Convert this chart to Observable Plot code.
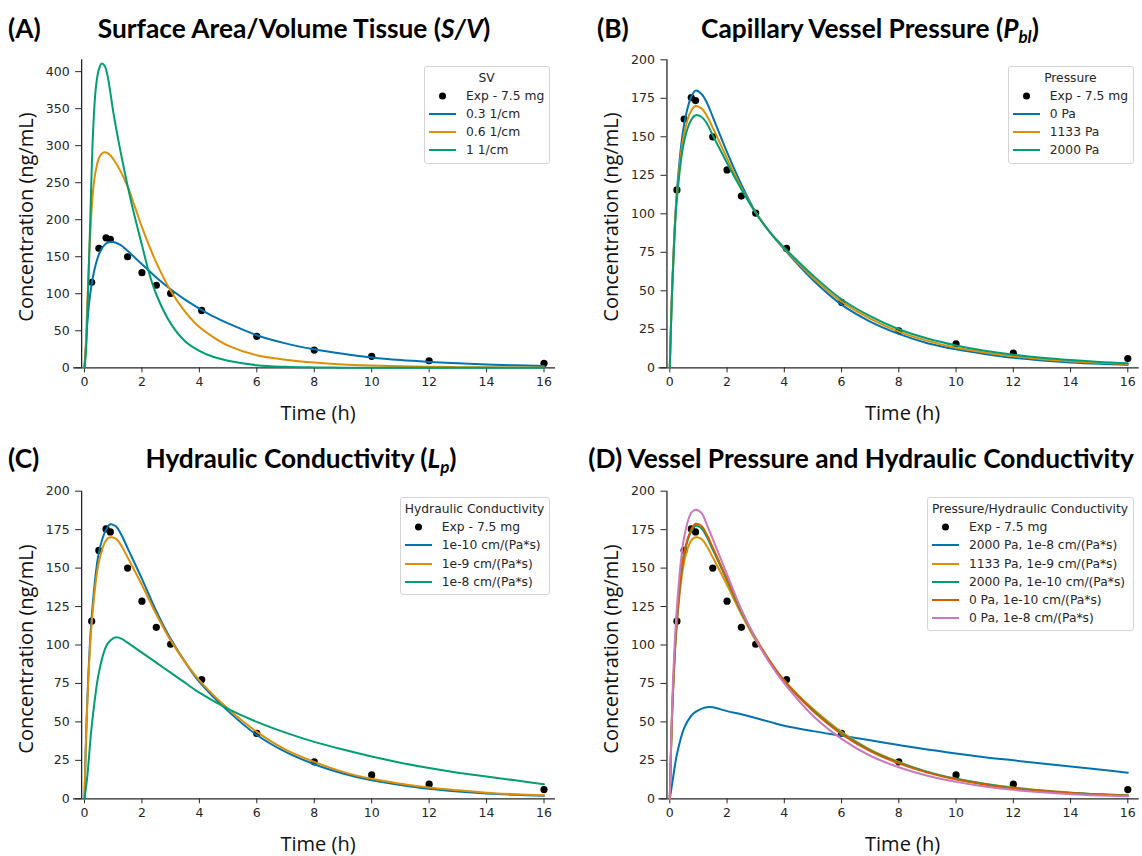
<!DOCTYPE html>
<html><head><meta charset="utf-8">
<script src="https://cdn.jsdelivr.net/npm/d3@7"></script>
<script src="https://cdn.jsdelivr.net/npm/@observablehq/plot@0.6"></script>
<style>
body{margin:0;background:#fff;}
#root{position:relative;width:1142px;height:856px;overflow:hidden;background:#fff;}
.panel{position:absolute;width:571px;height:428px;}
.panel svg{max-width:none;overflow:visible;}
.ttl{position:absolute;font-family:Lato,"Open Sans",sans-serif;font-weight:700;font-size:26.3px;line-height:1.1;white-space:nowrap;color:#000;transform:translate(-50%,-50%);}
.tag{position:absolute;font-family:Lato,"Open Sans",sans-serif;font-weight:700;font-size:26.3px;line-height:1.1;white-space:nowrap;color:#000;transform:translate(0,-50%);}
.ttl sub{font-size:17px;vertical-align:-5px;line-height:0;}
.ylab{position:absolute;font-family:"Open Sans",sans-serif;font-size:20px;line-height:1;white-space:nowrap;color:#111;transform:translate(-50%,-50%) rotate(-90deg);}
.xlab{position:absolute;font-family:"Open Sans",sans-serif;font-size:20px;line-height:1;white-space:nowrap;color:#111;transform:translate(-50%,-50%);}
.legend{position:absolute;background:rgba(255,255,255,0.85);border:1px solid #d4d4d4;border-radius:3px;padding:2px 5px 3px 4px;font-family:"DejaVu Sans",sans-serif;font-size:12.3px;line-height:18.2px;color:#262626;}
.legend .lt{text-align:center;white-space:nowrap;}
.legend .row{display:flex;align-items:center;white-space:nowrap;}
.legend .row svg{width:27px;height:10px;margin-right:10px;flex:none;}
</style>
</head><body><div id="root"></div>
<script>
// ---------- data ----------
const xTicks = [0, 2, 4, 6, 8, 10, 12, 14, 16];
const yTicksA = [0, 50, 100, 150, 200, 250, 300, 350, 400];
const yTicksBCD = [0, 25, 50, 75, 100, 125, 150, 175, 200];

const expTime = [0.25, 0.5, 0.75, 0.9, 1.5, 2, 2.5, 3, 4.08, 6, 8, 10, 12, 16];
const expConc = [115.5, 161.5, 175.5, 173.5, 150, 128.5, 111.5, 100.5, 77.5, 42.5, 24, 15.5, 9.5, 6];

// Panel A time grid and curves
const gridA = [0, 0.05, 0.1, 0.2, 0.3, 0.4, 0.5, 0.6, 0.7, 0.8, 0.9, 1, 1.25, 1.5, 1.75, 2, 2.25, 2.5, 3, 3.5, 4, 4.5, 5, 6, 7, 8, 9, 10, 11, 12, 13, 14, 15, 16];
const sv03 = [0, 30, 62, 100, 124, 141, 153, 161, 166, 169, 170, 170, 166, 158, 149, 140, 131, 122, 106, 92, 80, 69, 60, 44, 33, 25, 19, 14, 10.5, 8, 6, 4.5, 3.3, 2.5];
const sv06 = [0, 35, 90, 180, 240, 268, 283, 289, 291, 290, 287, 282, 266, 245, 218, 190, 165, 142, 104, 76, 55, 41, 30, 17, 11, 7, 4.5, 3, 2, 1.3, 0.9, 0.6, 0.4, 0.3];
const sv1  = [0, 22, 72, 200, 320, 380, 403, 411, 408, 395, 372, 346, 293, 246, 204, 166, 128, 99, 60, 36, 23, 14.5, 9.5, 3.5, 1.3, 0.5, 0.2, 0.1, 0.05, 0.02, 0, 0, 0, 0];

// Panels B, C, D time grid
const gridB = [0, 0.1, 0.25, 0.5, 0.75, 0.9, 1.1, 1.3, 1.5, 2, 2.5, 3, 3.5, 4, 5, 6, 7, 8, 9, 10, 11, 12, 13, 14, 15, 16];
// B: capillary vessel pressure
const p0    = [0, 60, 115, 158, 176, 180, 178, 172, 163, 140, 119, 101, 88, 77, 57, 41, 30, 22, 16, 12, 9, 6.5, 4.8, 3.5, 2.6, 2];
const p1133 = [0, 60, 113, 152, 167, 170, 168.5, 163.5, 156, 136, 117, 101, 88, 77.5, 58.5, 43, 32, 23.5, 17.5, 13, 10, 7.5, 5.6, 4.2, 3.2, 2.5];
const p2000 = [0, 58, 110, 147, 161, 164, 163, 158.5, 151, 133, 116, 100.5, 88, 78, 60, 44.5, 33.5, 25, 19, 14.5, 11, 8.5, 6.5, 5, 3.8, 3];
// C: hydraulic conductivity
const lp10 = [0, 65, 118, 160, 175, 178.5, 177, 171, 163, 143, 122, 104, 89, 76, 57, 41.5, 30.5, 22.5, 16.5, 12, 9, 6.5, 4.8, 3.5, 2.6, 2];
const lp9  = [0, 63, 114, 154, 168, 170, 169, 164, 157, 139, 120, 103, 89, 77, 58.5, 43.5, 32, 24, 17.5, 13, 9.8, 7.3, 5.5, 4, 3, 2.3];
const lp8  = [0, 15, 47, 82, 99, 103, 105, 104, 101.5, 95, 88.5, 82, 75.5, 69, 58.5, 50, 43, 37, 32, 27.5, 23.5, 20, 17, 14.5, 12, 9.5];
// D: pressure / hydraulic conductivity
const d2000_8  = [0, 12, 29, 46, 54, 56.5, 58.5, 59.6, 59.5, 57, 55, 52.5, 50, 47.5, 44, 41, 38, 35, 32, 29.5, 27, 25, 23, 21, 19, 17];
const d1133_9  = [0, 63, 114, 154, 168, 170, 169, 164, 157, 139, 120, 103, 89, 77, 58.5, 43.5, 32, 24, 17.5, 13, 9.8, 7.3, 5.5, 4, 3, 2.3];
const d2000_10 = [0, 64, 117, 159, 174, 177.5, 176, 170, 162, 142, 121.5, 104, 89, 76.5, 57.5, 42.5, 31.5, 23.5, 17.5, 13, 9.6, 7.1, 5.3, 3.9, 2.9, 2.2];
const d0_10    = [0, 65, 118, 160, 175, 178.8, 177.5, 171.5, 163.5, 143, 122.5, 104.5, 89.5, 76.5, 57, 42, 31, 23, 17, 12.5, 9.2, 6.8, 5, 3.7, 2.7, 2];
const d0_8     = [0, 70, 125, 170, 186, 188, 186, 178, 169, 146, 123, 104, 88, 75, 54, 39, 28, 20.5, 15, 11, 8, 5.8, 4.2, 3, 2.2, 1.6];

const expLabel = "Exp - 7.5 mg";
const namesA = ["0.3 1/cm", "0.6 1/cm", "1 1/cm"];
const namesB = ["0 Pa", "1133 Pa", "2000 Pa"];
const namesC = ["1e-10 cm/(Pa*s)", "1e-9 cm/(Pa*s)", "1e-8 cm/(Pa*s)"];
const namesD = ["2000 Pa, 1e-8 cm/(Pa*s)", "1133 Pa, 1e-9 cm/(Pa*s)", "2000 Pa, 1e-10 cm/(Pa*s)", "0 Pa, 1e-10 cm/(Pa*s)", "0 Pa, 1e-8 cm/(Pa*s)"];

// ---------- styles ----------
const PAL = ["#0173b2", "#de8f05", "#029e73", "#d55e00", "#cc78bc"];
const AXIS = "#262626";
const W = 571, H = 428;
const X_MIN = -0.1, X_MAX = 16.4, X_LINE_START = -0.38;

const root = document.getElementById("root");

function addDiv(cls, html, style) {
  const d = document.createElement("div");
  d.className = cls; d.innerHTML = html;
  Object.assign(d.style, style);
  root.appendChild(d);
  return d;
}

function swatch(kind, color) {
  if (kind === "dot") return `<svg viewBox="0 0 27 10"><circle cx="13.5" cy="5" r="3.5" fill="#000"/></svg>`;
  return `<svg viewBox="0 0 27 10"><line x1="0" x2="27" y1="5" y2="5" stroke="${color}" stroke-width="2"/></svg>`;
}

function makePanel(p) {
  const k = (p.x16 - p.x0) / 16;
  const fl = p.x0 + X_MIN * k, fr = p.x0 + X_MAX * k;
  const rows = [];
  p.series.forEach((vals, j) => vals.forEach((v, i) => rows.push({t: p.grid[i], v, s: p.names[j]})));
  const exp = expTime.map((t, i) => ({t, v: expConc[i]}));
  const colors = PAL.slice(0, p.names.length);
  const svg = Plot.plot({
    width: W, height: H,
    marginLeft: fl - p.left, marginRight: p.left + W - fr,
    marginTop: p.yTop - p.top, marginBottom: p.top + H - p.yBot,
    style: {fontFamily: "DejaVu Sans", fontSize: "12.5px", color: AXIS, background: "transparent", maxWidth: "none"},
    x: {domain: [X_MIN, X_MAX]},
    y: {domain: [0, p.yMax]},
    color: {domain: p.names, range: colors},
    marks: [
      Plot.axisX({ticks: xTicks, tickSize: 5, tickPadding: 4, label: null, tickFormat: d => String(d)}),
      Plot.axisY({ticks: p.yTicks, tickSize: 6, tickPadding: 6, label: null, tickFormat: d => String(d)}),
      Plot.ruleX([X_MIN], {y1: 0, y2: p.yMax, stroke: AXIS, strokeWidth: 1.3}),
      Plot.ruleY([0], {x1: X_LINE_START, x2: X_MAX, stroke: AXIS, strokeWidth: 1.3}),
      Plot.dot(exp, {x: "t", y: "v", r: 3.6, fill: "#000", stroke: "none"}),
      Plot.line(rows, {x: "t", y: "v", z: "s", stroke: "s", strokeWidth: 2, curve: "catmull-rom"})
    ]
  });
  const holder = addDiv("panel", "", {left: p.left + "px", top: p.top + "px"});
  holder.appendChild(svg);

  // axis labels
  addDiv("xlab", "Time (h)", {left: ((fl + fr) / 2) + "px", top: (p.yBot + 45.5) + "px"});
  addDiv("ylab", "Concentration (ng/mL)", {left: (p.x0 - 58) + "px", top: ((p.yTop + p.yBot) / 2 + 4) + "px"});

  // legend
  let html = `<div class="lt">${p.legendTitle}</div>`;
  html += `<div class="row">${swatch("dot")}<span>${expLabel}</span></div>`;
  p.names.forEach((n, j) => { html += `<div class="row">${swatch("line", colors[j])}<span>${n}</span></div>`; });
  addDiv("legend", html, {right: (1142 - (fr - 4.7)) + "px", top: (p.yTop + 6.2) + "px"});
}

makePanel({left: 0, top: 0, x0: 84, x16: 543.5, yTop: 59.3, yBot: 367.3, yMax: 416, yTicks: yTicksA,
  grid: gridA, series: [sv03, sv06, sv1], names: namesA, legendTitle: "SV"});
makePanel({left: 571, top: 0, x0: 669.3, x16: 1127.3, yTop: 59.3, yBot: 367.3, yMax: 200, yTicks: yTicksBCD,
  grid: gridB, series: [p0, p1133, p2000], names: namesB, legendTitle: "Pressure"});
makePanel({left: 0, top: 428, x0: 84, x16: 543.5, yTop: 490.7, yBot: 798.3, yMax: 200, yTicks: yTicksBCD,
  grid: gridB, series: [lp10, lp9, lp8], names: namesC, legendTitle: "Hydraulic Conductivity"});
makePanel({left: 571, top: 428, x0: 669.3, x16: 1127.3, yTop: 490.7, yBot: 798.3, yMax: 200, yTicks: yTicksBCD,
  grid: gridB, series: [d2000_8, d1133_9, d2000_10, d0_10, d0_8], names: namesD, legendTitle: "Pressure/Hydraulic Conductivity"});

// titles
addDiv("tag", "(A)", {left: "8px", top: "28px"});
addDiv("ttl", "Surface Area/Volume Tissue (<i>S/V</i>)", {left: "294px", top: "28px"});
addDiv("tag", "(B)", {left: "597px", top: "28px"});
addDiv("ttl", "Capillary Vessel Pressure (<i>P<sub>bl</sub></i>)", {left: "870px", top: "28px"});
addDiv("tag", "(C)", {left: "8px", top: "458px"});
addDiv("ttl", "Hydraulic Conductivity (<i>L<sub>p</sub></i>)", {left: "301px", top: "458px"});
addDiv("ttl", "(D) Vessel Pressure and Hydraulic Conductivity", {left: "861px", top: "458px"});
</script>
</body></html>
